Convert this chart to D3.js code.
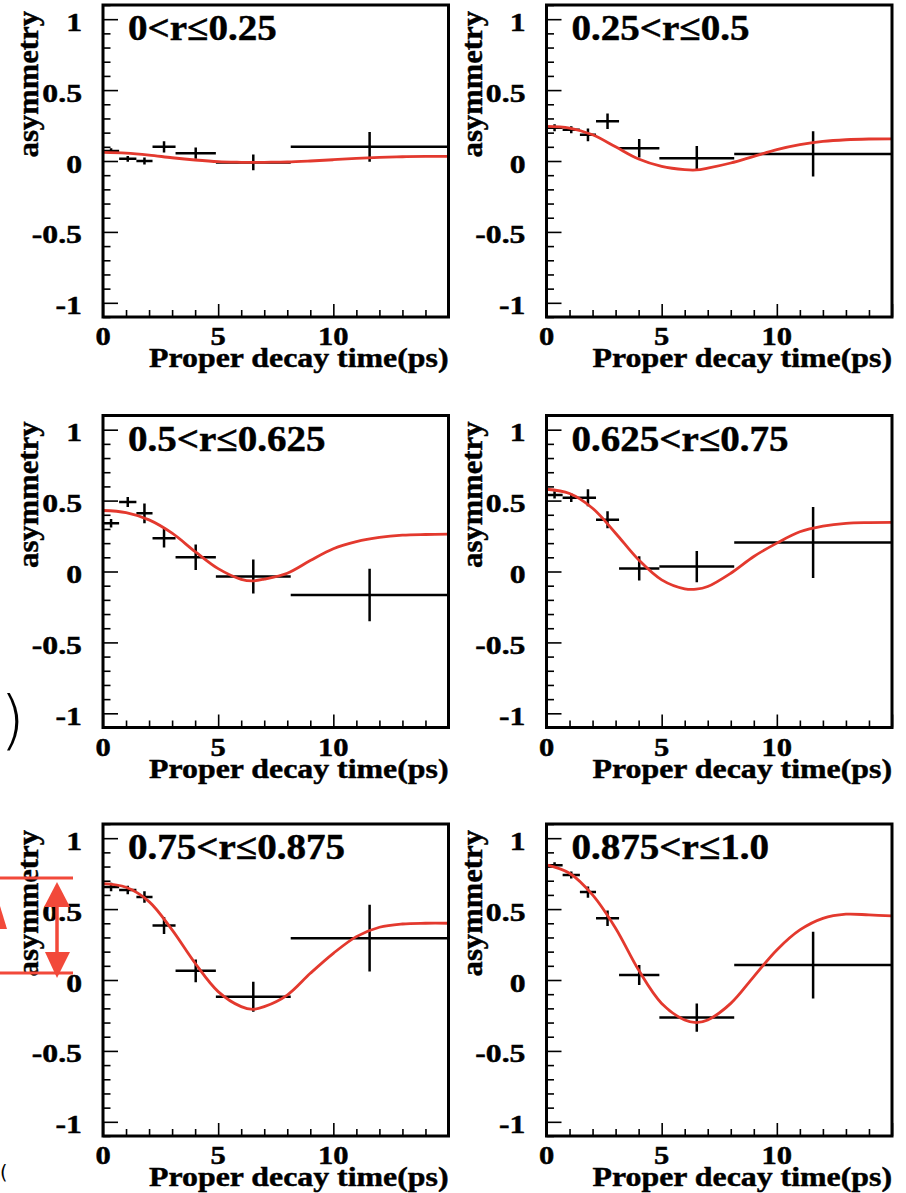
<!DOCTYPE html>
<html><head><meta charset="utf-8">
<script src="https://cdn.jsdelivr.net/npm/d3@7"></script>
<style>
body{margin:0;background:#fff}
svg{display:block}
text.lbl{font-family:"Liberation Serif","Times New Roman",serif;font-weight:bold;fill:#000;stroke:#000;stroke-width:0.45}
</style>
</head><body>
<svg id="c" width="906" height="1193"></svg>
<script>
// ---------------- data ----------------
const titles = ["0<r≤0.25","0.25<r≤0.5","0.5<r≤0.625","0.625<r≤0.75","0.75<r≤0.875","0.875<r≤1.0"];
const binEdges = [0, 0.7, 1.45, 2.15, 3.15, 4.9, 8.15, 15];

const asym1 = [0.070, 0.015, 0.000, 0.100, 0.055, -0.010, 0.100];
const err1  = [0.020, 0.020, 0.025, 0.040, 0.040, 0.055, 0.105];
const asym2 = [0.235, 0.220, 0.185, 0.280, 0.090, 0.020, 0.050];
const err2  = [0.025, 0.025, 0.045, 0.055, 0.065, 0.085, 0.160];
const asym3 = [0.340, 0.490, 0.410, 0.235, 0.100, -0.035, -0.165];
const err3  = [0.030, 0.035, 0.070, 0.065, 0.090, 0.120, 0.185];
const asym4 = [0.540, 0.520, 0.520, 0.365, 0.022, 0.035, 0.205];
const err4  = [0.025, 0.030, 0.060, 0.060, 0.085, 0.110, 0.250];
const asym5 = [0.655, 0.635, 0.585, 0.385, 0.065, -0.118, 0.295];
const err5  = [0.030, 0.030, 0.040, 0.060, 0.080, 0.105, 0.235];
const asym6 = [0.810, 0.740, 0.620, 0.435, 0.035, -0.265, 0.105];
const err6  = [0.020, 0.025, 0.040, 0.055, 0.070, 0.100, 0.235];

const fitT = [0, 1, 2, 3, 4, 5, 6, 6.5, 7, 8, 9, 10, 11, 12, 13, 14, 15];
const fit1 = [0.061, 0.056, 0.042, 0.023, 0.007, -0.005, -0.009, -0.010, -0.009, -0.007, 0.000, 0.009, 0.019, 0.026, 0.030, 0.033, 0.033];
const fit2 = [0.244, 0.232, 0.185, 0.100, 0.014, -0.038, -0.061, -0.063, -0.050, -0.014, 0.033, 0.080, 0.115, 0.138, 0.150, 0.155, 0.156];
const fit3 = [0.430, 0.415, 0.364, 0.270, 0.140, 0.020, -0.055, -0.066, -0.054, -0.012, 0.077, 0.160, 0.210, 0.240, 0.256, 0.261, 0.263];
const fit4 = [0.580, 0.550, 0.446, 0.270, 0.082, -0.059, -0.122, -0.125, -0.106, -0.012, 0.106, 0.200, 0.280, 0.320, 0.340, 0.345, 0.346];
const fit5 = [0.680, 0.654, 0.553, 0.353, 0.118, -0.082, -0.188, -0.207, -0.188, -0.106, 0.047, 0.188, 0.306, 0.372, 0.395, 0.400, 0.400];
const fit6 = [0.812, 0.753, 0.600, 0.365, 0.070, -0.165, -0.282, -0.300, -0.282, -0.165, 0.024, 0.212, 0.353, 0.435, 0.464, 0.459, 0.452];

const xTicks = [0, 5, 10];
const xTickLabels = ["0", "5", "10"];
const yTicks = [-1, -0.5, 0, 0.5, 1];
const yTickLabels = ["-1", "-0.5", "0", "0.5", "1"];
const xTitle = "Proper decay time(ps)";
const yTitle = "asymmetry";

const asymSets = [asym1, asym2, asym3, asym4, asym5, asym6];
const errSets = [err1, err2, err3, err4, err5, err6];
const fitSets = [fit1, fit2, fit3, fit4, fit5, fit6];

// ---------------- layout ----------------
const svg = d3.select("#c");
svg.append("rect").attr("width", 906).attr("height", 1193).attr("fill", "#fff");

const W = 345.5, H = 312;
const colX = [103, 546.5];
const rowY = [5, 415.5, 824];
const RED = "#e3392e";

const x = d3.scaleLinear().domain([0, 15]).range([0, W]);
const y = d3.scaleLinear().domain([-1.1, 1.1]).range([H, 0]);

const defs = svg.append("defs");
defs.append("clipPath").attr("id", "frameClip")
  .append("rect").attr("x", 0).attr("y", 0).attr("width", W).attr("height", H);

const minorY = d3.range(-11, 12).map(i => i / 10).filter(v => !yTicks.some(t => Math.abs(t - v) < 1e-9));
const minorX = d3.range(0, 16).filter(v => v % 5 !== 0);

titles.forEach((title, i) => {
  const col = i % 2, row = Math.floor(i / 2);
  const g = svg.append("g").attr("transform", `translate(${colX[col]},${rowY[row]})`);

  // ticks (inward)
  const tickStyle = sel => { sel.select(".domain").remove(); sel.selectAll("line").attr("stroke", "#000").attr("stroke-width", 1.6); };
  g.append("g").call(d3.axisLeft(y).tickValues(yTicks).tickSize(-15).tickFormat("")).call(tickStyle);
  g.append("g").call(d3.axisLeft(y).tickValues(minorY).tickSize(-7.5).tickFormat("")).call(tickStyle);
  g.append("g").attr("transform", `translate(0,${H})`).call(d3.axisBottom(x).tickValues(xTicks.concat([15])).tickSize(-13).tickFormat("")).call(tickStyle);
  g.append("g").attr("transform", `translate(0,${H})`).call(d3.axisBottom(x).tickValues(minorX).tickSize(-7).tickFormat("")).call(tickStyle);

  // data points with error bars
  const vals = asymSets[i], errs = errSets[i];
  const pts = vals.map((v, k) => ({ lo: binEdges[k], hi: binEdges[k + 1], c: (binEdges[k] + binEdges[k + 1]) / 2, v, e: errs[k] }));
  const pg = g.append("g").attr("clip-path", "url(#frameClip)");
  pg.selectAll("line.h").data(pts).join("line").attr("class", "h")
    .attr("x1", d => x(d.lo)).attr("x2", d => x(d.hi))
    .attr("y1", d => y(d.v)).attr("y2", d => y(d.v))
    .attr("stroke", "#000").attr("stroke-width", 2.5);
  pg.selectAll("line.v").data(pts).join("line").attr("class", "v")
    .attr("x1", d => x(d.c)).attr("x2", d => x(d.c))
    .attr("y1", d => y(d.v - d.e)).attr("y2", d => y(d.v + d.e))
    .attr("stroke", "#000").attr("stroke-width", 2.5);

  // fit curve
  const line = d3.line().x(d => x(d[0])).y(d => y(d[1])).curve(d3.curveCatmullRom.alpha(0.5));
  pg.append("path").datum(fitT.map((t, k) => [t, fitSets[i][k]]))
    .attr("d", line).attr("fill", "none").attr("stroke", RED).attr("stroke-width", 2.8);

  // frame
  g.append("rect").attr("x", 0).attr("y", 0).attr("width", W).attr("height", H)
    .attr("fill", "none").attr("stroke", "#000").attr("stroke-width", 3);

  // y tick labels
  g.selectAll("text.yl").data(yTicks).join("text").attr("class", "yl lbl")
    .attr("transform", d => `translate(-21,${y(d) + 11.5}) scale(1.22,1)`)
    .attr("text-anchor", "end").attr("font-size", 26)
    .text((d, k) => yTickLabels[k]);

  // x tick labels
  g.selectAll("text.xl").data(xTicks).join("text").attr("class", "xl lbl")
    .attr("transform", d => `translate(${x(d)},${H + 28}) scale(1.22,1)`)
    .attr("text-anchor", "middle").attr("font-size", 25)
    .text((d, k) => xTickLabels[k]);

  // axis titles
  g.append("text").attr("class", "lbl").attr("transform", `translate(${W},${H + 50}) scale(1.18,1)`)
    .attr("text-anchor", "end").attr("font-size", 27).text(xTitle);
  g.append("text").attr("class", "lbl").attr("transform", `translate(-65,6) rotate(-90) scale(1.04,1)`)
    .attr("text-anchor", "end").attr("font-size", 29.5).text(yTitle);

  // panel title
  g.append("text").attr("class", "lbl").attr("transform", `translate(25,35) scale(1.1,1)`)
    .attr("text-anchor", "start").attr("font-size", 35.5).text(title);
});

// ---------------- slide fragments at the left edge ----------------
svg.append("text").attr("x", 0).attr("y", 742).attr("font-size", 64)
  .style("font-family", "'DejaVu Sans', sans-serif").style("font-weight", "200").text(")");
svg.append("text").attr("x", 0).attr("y", 1179).attr("font-size", 19)
  .style("font-family", "'DejaVu Sans', sans-serif").text("(");

const ARED = "#f2493a";
const ann = svg.append("g");
ann.append("line").attr("x1", 0).attr("x2", 73).attr("y1", 878).attr("y2", 878).attr("stroke", ARED).attr("stroke-width", 3);
ann.append("line").attr("x1", 0).attr("x2", 73).attr("y1", 973).attr("y2", 973).attr("stroke", ARED).attr("stroke-width", 3);
ann.append("line").attr("x1", 57).attr("x2", 57).attr("y1", 900).attr("y2", 958).attr("stroke", ARED).attr("stroke-width", 3.5);
ann.append("path").attr("d", "M57,882 L70,907 L44,907 Z").attr("fill", ARED);
ann.append("path").attr("d", "M57,978 L70,952 L45,952 Z").attr("fill", ARED);
ann.append("path").attr("d", "M0,906 L7,929 L0,929 Z").attr("fill", ARED);
</script>
</body></html>
